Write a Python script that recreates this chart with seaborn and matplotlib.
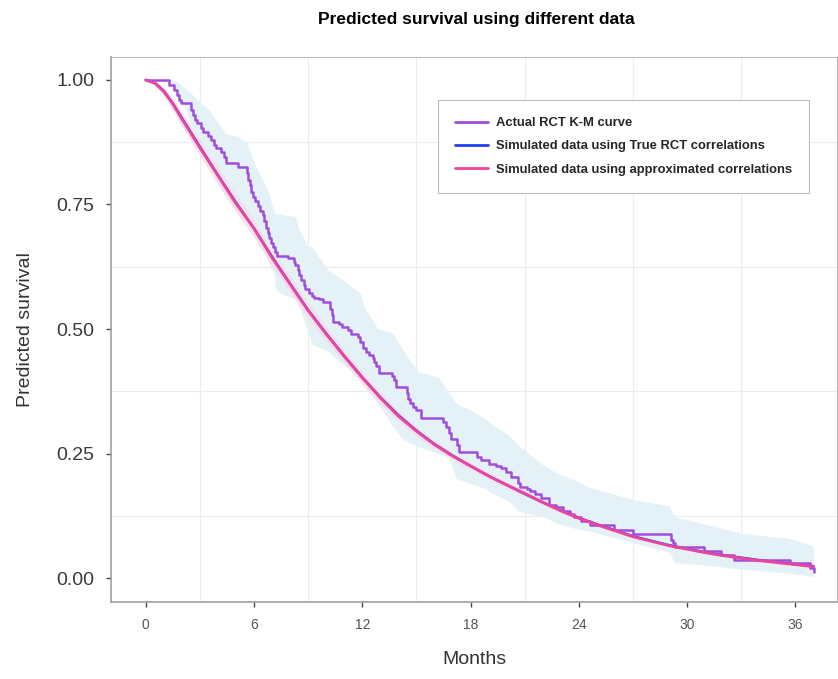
import numpy as np
import pandas as pd
import matplotlib
matplotlib.use("Agg")
import matplotlib.pyplot as plt
import seaborn as sns
from matplotlib.lines import Line2D

# ---------------- data ----------------
# Kaplan-Meier step curve (time of drop, survival after drop)
km_time = [0.0, 1.31, 1.59, 1.72, 1.85, 1.95, 2.50, 2.60, 2.72, 2.85, 3.05, 3.20, 3.45, 3.62,
           3.77, 3.90, 4.20, 4.32, 4.45, 5.10, 5.60, 5.68, 5.76, 5.83, 5.93, 6.05, 6.20, 6.35,
           6.48, 6.57, 6.66, 6.76, 6.85, 6.94, 7.04, 7.16, 7.27, 7.87, 8.20, 8.29, 8.42, 8.51,
           8.60, 8.75, 8.83, 9.05, 9.20, 9.35, 9.60, 9.85, 10.22, 10.30, 10.36, 10.70, 10.85,
           11.19, 11.37, 11.75, 11.85, 12.02, 12.20, 12.39, 12.58, 12.67, 12.78, 12.90, 13.65,
           13.77, 13.87, 14.45, 14.55, 14.62, 14.79, 14.98, 15.27, 16.45, 16.65, 16.80, 16.91,
           17.25, 17.35, 18.35, 18.58, 19.00, 19.41, 19.68, 19.96, 20.24, 20.65, 20.72, 21.10,
           21.30, 21.55, 21.90, 22.36, 22.73, 23.10, 23.50, 23.75, 24.12, 24.63, 25.96, 27.00,
           29.10, 29.20, 29.30, 30.95, 31.85, 32.60, 35.68, 36.80, 37.00]
km_surv = [1.000, 0.990, 0.980, 0.970, 0.960, 0.953, 0.940, 0.930, 0.920, 0.913, 0.903, 0.896,
           0.888, 0.880, 0.869, 0.863, 0.855, 0.846, 0.833, 0.825, 0.813, 0.800, 0.790, 0.775,
           0.765, 0.757, 0.747, 0.737, 0.729, 0.716, 0.702, 0.692, 0.682, 0.672, 0.665, 0.655,
           0.647, 0.642, 0.635, 0.628, 0.618, 0.608, 0.598, 0.588, 0.580, 0.573, 0.567, 0.563,
           0.560, 0.555, 0.540, 0.528, 0.515, 0.510, 0.505, 0.498, 0.491, 0.483, 0.474, 0.461,
           0.454, 0.448, 0.441, 0.434, 0.425, 0.412, 0.405, 0.398, 0.384, 0.371, 0.360, 0.351,
           0.344, 0.337, 0.321, 0.314, 0.304, 0.291, 0.279, 0.267, 0.254, 0.244, 0.237, 0.230,
           0.225, 0.220, 0.212, 0.203, 0.190, 0.182, 0.178, 0.174, 0.168, 0.160, 0.147, 0.142,
           0.134, 0.129, 0.123, 0.115, 0.106, 0.096, 0.088, 0.076, 0.070, 0.062, 0.054, 0.046,
           0.037, 0.031, 0.021, 0.013]

# Smooth simulated curves (read per month)
sim_time = [0, 0.5, 1, 1.5, 2, 3, 4, 5, 6, 7, 8, 9, 10, 11, 12, 13, 14, 15, 16, 17, 18, 19,
            20, 21, 22, 23, 24, 25, 26, 27, 28, 29, 30, 31, 32, 33, 34, 35, 36, 37]
sim_true = [1.000, 0.994, 0.978, 0.953, 0.924, 0.866, 0.809, 0.754, 0.702, 0.645, 0.591,
            0.538, 0.491, 0.446, 0.403, 0.363, 0.327, 0.296, 0.269, 0.246, 0.225, 0.205,
            0.187, 0.169, 0.152, 0.136, 0.121, 0.108, 0.096, 0.084, 0.075, 0.066, 0.059,
            0.052, 0.046, 0.041, 0.036, 0.032, 0.028, 0.024]
sim_approx = [1.000, 0.994, 0.977, 0.952, 0.922, 0.864, 0.808, 0.752, 0.702, 0.643, 0.590,
              0.537, 0.490, 0.445, 0.402, 0.362, 0.325, 0.295, 0.268, 0.245, 0.225, 0.205,
              0.187, 0.170, 0.152, 0.135, 0.120, 0.107, 0.095, 0.083, 0.074, 0.065, 0.058,
              0.051, 0.045, 0.040, 0.035, 0.031, 0.027, 0.023]
approx_lo = [1.000, 0.990, 0.968, 0.940, 0.908, 0.848, 0.790, 0.735, 0.684, 0.626, 0.573,
             0.521, 0.475, 0.431, 0.389, 0.350, 0.314, 0.285, 0.259, 0.237, 0.217, 0.198,
             0.180, 0.164, 0.147, 0.130, 0.116, 0.103, 0.092, 0.080, 0.071, 0.063, 0.056,
             0.049, 0.043, 0.038, 0.033, 0.029, 0.025, 0.021]
approx_hi = [1.000, 0.998, 0.986, 0.964, 0.936, 0.880, 0.826, 0.770, 0.720, 0.660, 0.607,
             0.553, 0.505, 0.459, 0.415, 0.374, 0.336, 0.305, 0.277, 0.253, 0.233, 0.212,
             0.194, 0.176, 0.157, 0.140, 0.124, 0.111, 0.098, 0.086, 0.077, 0.067, 0.060,
             0.053, 0.047, 0.042, 0.037, 0.033, 0.029, 0.025]

# Wide (light blue) interval
band_time = [1.3, 1.8, 2.3, 2.9, 3.5, 4.2, 4.4, 5.1, 5.6, 5.75, 6.2, 6.6, 6.8, 7.1, 7.2, 7.7,
             8.3, 8.5, 8.9, 9.2, 10.1, 10.8, 11.4, 11.9, 12.1, 12.85, 13.7, 14.3, 14.5, 15.1,
             16.2, 16.7, 17.2, 18.0, 18.8, 19.1, 20.1, 20.7, 21.9, 22.8, 23.75, 24.5, 27.1,
             29.0, 29.3, 30.8, 33.0, 35.6, 36.9, 37.0]
band_hi = [1.000, 0.995, 0.980, 0.960, 0.940, 0.905, 0.893, 0.886, 0.875, 0.858, 0.819, 0.790,
           0.775, 0.735, 0.732, 0.729, 0.726, 0.700, 0.669, 0.665, 0.618, 0.602, 0.585, 0.572,
           0.545, 0.501, 0.491, 0.455, 0.444, 0.414, 0.404, 0.378, 0.351, 0.337, 0.320, 0.311,
           0.287, 0.265, 0.230, 0.210, 0.197, 0.183, 0.157, 0.145, 0.123, 0.110, 0.090, 0.080,
           0.066, 0.060]
band_lo = [1.000, 0.975, 0.935, 0.870, 0.830, 0.786, 0.775, 0.735, 0.710, 0.700, 0.675, 0.655,
           0.635, 0.610, 0.578, 0.568, 0.562, 0.545, 0.505, 0.470, 0.455, 0.432, 0.418, 0.398,
           0.385, 0.351, 0.304, 0.277, 0.274, 0.264, 0.250, 0.247, 0.200, 0.190, 0.180, 0.172,
           0.155, 0.133, 0.125, 0.110, 0.100, 0.095, 0.070, 0.052, 0.031, 0.027, 0.018, 0.010,
           0.004, 0.003]

labels = ["Actual RCT K-M curve",
          "Simulated data using True RCT correlations",
          "Simulated data using approximated correlations"]
colors = ["#a04ddc", "#1f3ff0", "#ec449f"]

x_ticks = [0, 6, 12, 18, 24, 30, 36]
y_ticks = [0.0, 0.25, 0.5, 0.75, 1.0]

# ---------------- plot ----------------
sns.set_theme(style="white")
plt.rcParams["font.family"] = ["Liberation Sans", "DejaVu Sans"]

fig = plt.figure(figsize=(8.38, 6.79), dpi=100)
ax = fig.add_axes([0.1325, 0.1134, 0.8663, 0.8026])

ax.fill_between(band_time, band_lo, band_hi, color="#e4f2f7", lw=0, zorder=1)
ax.fill_between(sim_time, approx_lo, approx_hi, color="#f6dfe9", alpha=0.9, lw=0, zorder=2)

km_df = pd.DataFrame({"t": km_time, "s": km_surv})
sim_df = pd.DataFrame({"t": sim_time, "true": sim_true, "approx": sim_approx})

sns.lineplot(data=km_df, x="t", y="s", ax=ax, color=colors[0], lw=1.8,
             drawstyle="steps-post", estimator=None, sort=False, zorder=4)
sns.lineplot(data=sim_df, x="t", y="true", ax=ax, color=colors[1], lw=1.8,
             estimator=None, sort=False, zorder=3)
sns.lineplot(data=sim_df, x="t", y="approx", ax=ax, color=colors[2], lw=2.0,
             estimator=None, sort=False, zorder=5)

ax.set_xlim(-1.92, 38.3)
ax.set_ylim(-0.048, 1.046)
ax.set_xticks(x_ticks)
ax.set_xticklabels([str(v) for v in x_ticks], fontsize=10, color="#555555")
ax.set_yticks(y_ticks)
ax.set_yticklabels([f"{v:.2f}" for v in y_ticks], fontsize=14, color="#3a3a3a")
ax.set_xticks([3, 9, 15, 21, 27, 33], minor=True)
ax.set_yticks([0.125, 0.375, 0.625, 0.875], minor=True)
ax.grid(False)
ax.grid(which="minor", color="#ececec", lw=0.8)
ax.set_axisbelow(True)
ax.tick_params(axis="both", which="major", direction="out", length=3.5, width=1.0,
               color="#444444", bottom=True, left=True)
ax.tick_params(axis="x", pad=8)
ax.tick_params(axis="y", pad=8.5)
ax.tick_params(which="minor", length=0)

for side in ["left", "bottom"]:
    ax.spines[side].set_color("#a0a0a0")
    ax.spines[side].set_linewidth(1.2)
for side in ["top", "right"]:
    ax.spines[side].set_color("#aaaaaa")
    ax.spines[side].set_linewidth(0.6)

ax.set_xlabel("Months", fontsize=14, color="#333333", labelpad=14)
ax.set_ylabel("Predicted survival", fontsize=14, color="#333333", labelpad=16)
fig.text(0.568, 0.972, "Predicted survival using different data", ha="center",
         va="center", fontsize=12.5, fontweight="bold", color="black")

handles = [Line2D([0], [0], color=c, lw=2.0) for c in colors]
leg = ax.legend(handles, labels, loc="upper right", bbox_to_anchor=(0.961, 0.921),
                prop={"weight": "bold", "size": 9.4}, frameon=True, fancybox=False,
                borderpad=1.3, labelspacing=0.85, handlelength=2.5, handletextpad=0.6,
                borderaxespad=0)
leg.get_frame().set_edgecolor("#bbbbbb")
leg.get_frame().set_linewidth(0.8)
leg.get_frame().set_facecolor("white")
leg.get_frame().set_alpha(1)

fig.savefig("out.png", dpi=100)
